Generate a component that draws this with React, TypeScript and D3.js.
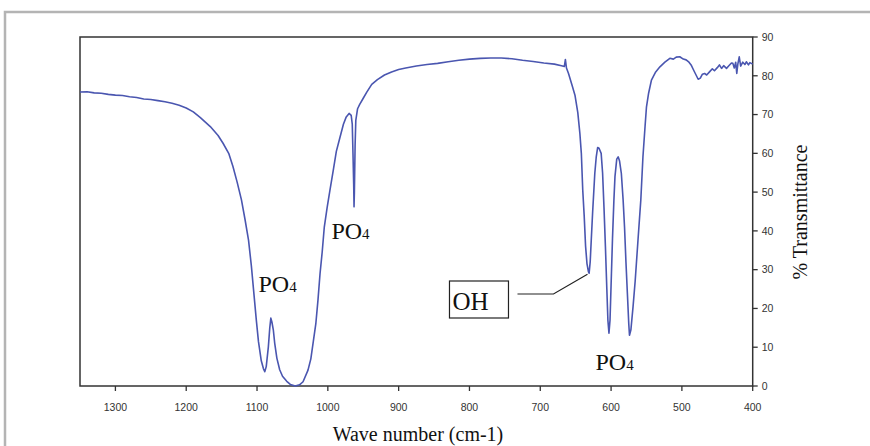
import React from "react";
import * as d3 from "d3";

const wavenumbers: number[] = [
  1350, 1340, 1330, 1320, 1310, 1300, 1290, 1280, 1270, 1260, 1250, 1240, 1230, 1220, 1210, 1200, 1190, 1180, 1166, 1155, 1148, 1140, 1134, 1128, 1122, 1117, 1112,
  1108, 1105, 1101, 1098, 1094, 1091, 1089, 1087, 1084, 1082, 1080.5, 1079, 1077, 1075, 1072, 1068, 1064, 1058, 1053, 1046,
  1040, 1035, 1028, 1024, 1020.5, 1017, 1014, 1011, 1008, 1005, 1001, 997, 992, 988, 983, 978, 974, 970, 967, 965.5,
  964.5, 963.5, 963, 962.5, 961.5, 960.5, 958, 955, 950, 945, 938, 930, 920, 910, 900, 890, 875, 860, 845, 830,
  815, 800, 785, 770, 755, 740, 725, 710, 695, 680, 670, 666, 664.5, 663, 660, 655, 651, 647, 644, 642,
  640, 638, 636, 634, 632, 631, 629.5, 628, 626, 623, 621, 619, 617, 614, 612, 610, 608, 606, 604.5, 603,
  601.5, 600, 598, 596, 594.5, 592, 590, 588, 585.5, 583, 581, 579, 577, 575, 574, 572, 569, 566, 562, 558,
  555, 552, 550, 547, 543, 537, 531, 524, 517, 512, 508, 503, 498, 494, 490, 487, 483, 480, 477, 474,
  471, 468, 465, 461, 457, 454, 450, 447, 444, 441, 437, 434, 430, 428, 426, 424, 422.5, 421, 419, 417,
  414, 411, 409, 406, 404, 402, 400,
];

const transmittance: number[] = [
  75.8, 75.9, 75.6, 75.5, 75.2, 75.0, 74.9, 74.6, 74.4, 74.0, 73.9, 73.6, 73.3, 72.9, 72.4, 71.7, 70.7, 69.2, 66.9, 64.6, 62.6, 60.0, 56.6, 52.5, 48, 43, 37.6,
  31, 25, 17, 11.5, 6.5, 4.5, 3.7, 5, 10.1, 15, 17.5, 16.5, 14.5, 11, 7.2, 4.2, 2.5, 1.2, 0.4, 0.0,
  0.3, 1.1, 4.1, 7, 11.5, 16, 22, 29, 34.5, 41, 46, 50.5, 56, 60.5, 64, 67.5, 69.4, 70.3, 69.8, 67.5,
  60, 52, 46.2, 50, 62, 68.5, 71.5, 72.6, 74.2, 75.8, 77.8, 79, 80.2, 81, 81.6, 82.0, 82.5, 82.9, 83.2, 83.6,
  84.0, 84.3, 84.5, 84.6, 84.6, 84.4, 84.0, 83.7, 83.3, 83.0, 82.6, 82.4, 84.2, 82.0, 80.5, 77.5, 75, 70.5, 65, 60,
  50.5, 44, 36, 31.5, 29.5, 29.1, 32, 37.6, 45, 54.8, 59, 61.5, 61.3, 60, 55, 46, 36, 25, 17, 13.6,
  17, 26, 38, 48, 54, 58.5, 59.1, 58, 54.8, 48, 41, 32, 24, 16, 13.1, 14.5, 20.4, 27, 37.6, 48,
  59.1, 67, 72, 75.5, 78.9, 81, 82.3, 83.5, 84.5, 84.3, 84.8, 84.9, 84.3, 84.1, 83.5, 82.8, 81.3, 80.2, 79.1, 79.4,
  80.4, 80.6, 80.2, 81.0, 81.8, 81.3, 82.1, 82.8, 81.9, 82.6, 81.9, 82.5, 83.3, 83.2, 82.0, 83.5, 80.6, 83.0, 84.9, 82.5,
  83.5, 82.9, 83.6, 82.8, 83.4, 83.2, 83.0,
];

const xTicks: number[] = [1300, 1200, 1100, 1000, 900, 800, 700, 600, 500, 400];
const yTicks: number[] = [0, 10, 20, 30, 40, 50, 60, 70, 80, 90];

const xTitle = "Wave number (cm-1)";
const yTitle = "% Transmittance";

const peakLabels = [
  { main: "PO", sub: "4", wn: 1098, t: 24.3 },
  { main: "PO", sub: "4", wn: 995, t: 38 },
  { main: "PO", sub: "4", wn: 622, t: 4 },
];
const ohLabel = { text: "OH", wn: 630.5, t: 29.1 };

export default function App() {
  const left = 80, right = 752.7, top = 37, bottom = 386;
  const x = d3.scaleLinear().domain([1350, 400]).range([left, right]);
  const y = d3.scaleLinear().domain([0, 90]).range([bottom, top]);
  const pts: [number, number][] = wavenumbers.map((w, i) => [w, transmittance[i]]);
  const line = d3
    .line<[number, number]>()
    .x((d) => x(d[0]))
    .y((d) => y(d[1]));

  const serif = "'Liberation Serif', 'Times New Roman', serif";
  const sans = "'Liberation Sans', Arial, sans-serif";

  const ax = x(ohLabel.wn) - 2, ay = y(ohLabel.t) + 3;
  const boxRight = ax - 79, boxLeft = boxRight - 59;

  return (
    <svg
      width={870}
      height={446}
      style={{ position: "absolute", left: 0, top: 0, background: "#fff" }}
    >
      <rect x={5} y={12} width={900} height={460} fill="#fff" stroke="#b4b4b4" strokeWidth={2.5} />
      <rect x={left} y={top} width={right - left} height={bottom - top} fill="none" stroke="#333" strokeWidth={1.5} />
      {xTicks.map((t) => (
        <g key={"x" + t}>
          <line x1={x(t)} x2={x(t)} y1={bottom} y2={bottom + 5} stroke="#333" strokeWidth={1.3} />
          <text x={x(t)} y={411} textAnchor="middle" fontFamily={sans} fontSize={10.5} fill="#333">
            {t}
          </text>
        </g>
      ))}
      {yTicks.map((t) => (
        <g key={"y" + t}>
          <line x1={right} x2={right + 5} y1={y(t)} y2={y(t)} stroke="#333" strokeWidth={1.3} />
          <text x={right + 9} y={y(t) + 3.8} textAnchor="start" fontFamily={sans} fontSize={10.5} fill="#333">
            {t}
          </text>
        </g>
      ))}
      <path d={line(pts) || ""} fill="none" stroke="#4a56b0" strokeWidth={1.6} strokeLinejoin="round" />
      {peakLabels.map((p, i) => (
        <text key={"p" + i} x={x(p.wn)} y={y(p.t)} fontFamily={serif} fontSize={24} fill="#111">
          {p.main}
          <tspan fontSize={15}>{p.sub}</tspan>
        </text>
      ))}
      <rect x={boxLeft} y={281} width={boxRight - boxLeft} height={37} fill="#fff" stroke="#222" strokeWidth={1.2} />
      <text x={boxLeft + 3} y={309.5} fontFamily={serif} fontSize={25} fill="#111">
        {ohLabel.text}
      </text>
      <polyline
        points={`${boxRight + 9},294 ${boxRight + 45},294 ${ax},${ay - 2}`}
        fill="none"
        stroke="#222"
        strokeWidth={1.2}
      />
      <text x={418} y={441} textAnchor="middle" fontFamily={serif} fontSize={20} fill="#111">
        {xTitle}
      </text>
      <text
        transform={`translate(807, 212) rotate(-90)`}
        textAnchor="middle"
        fontFamily={serif}
        fontSize={20}
        fill="#111"
      >
        {yTitle}
      </text>
    </svg>
  );
}
